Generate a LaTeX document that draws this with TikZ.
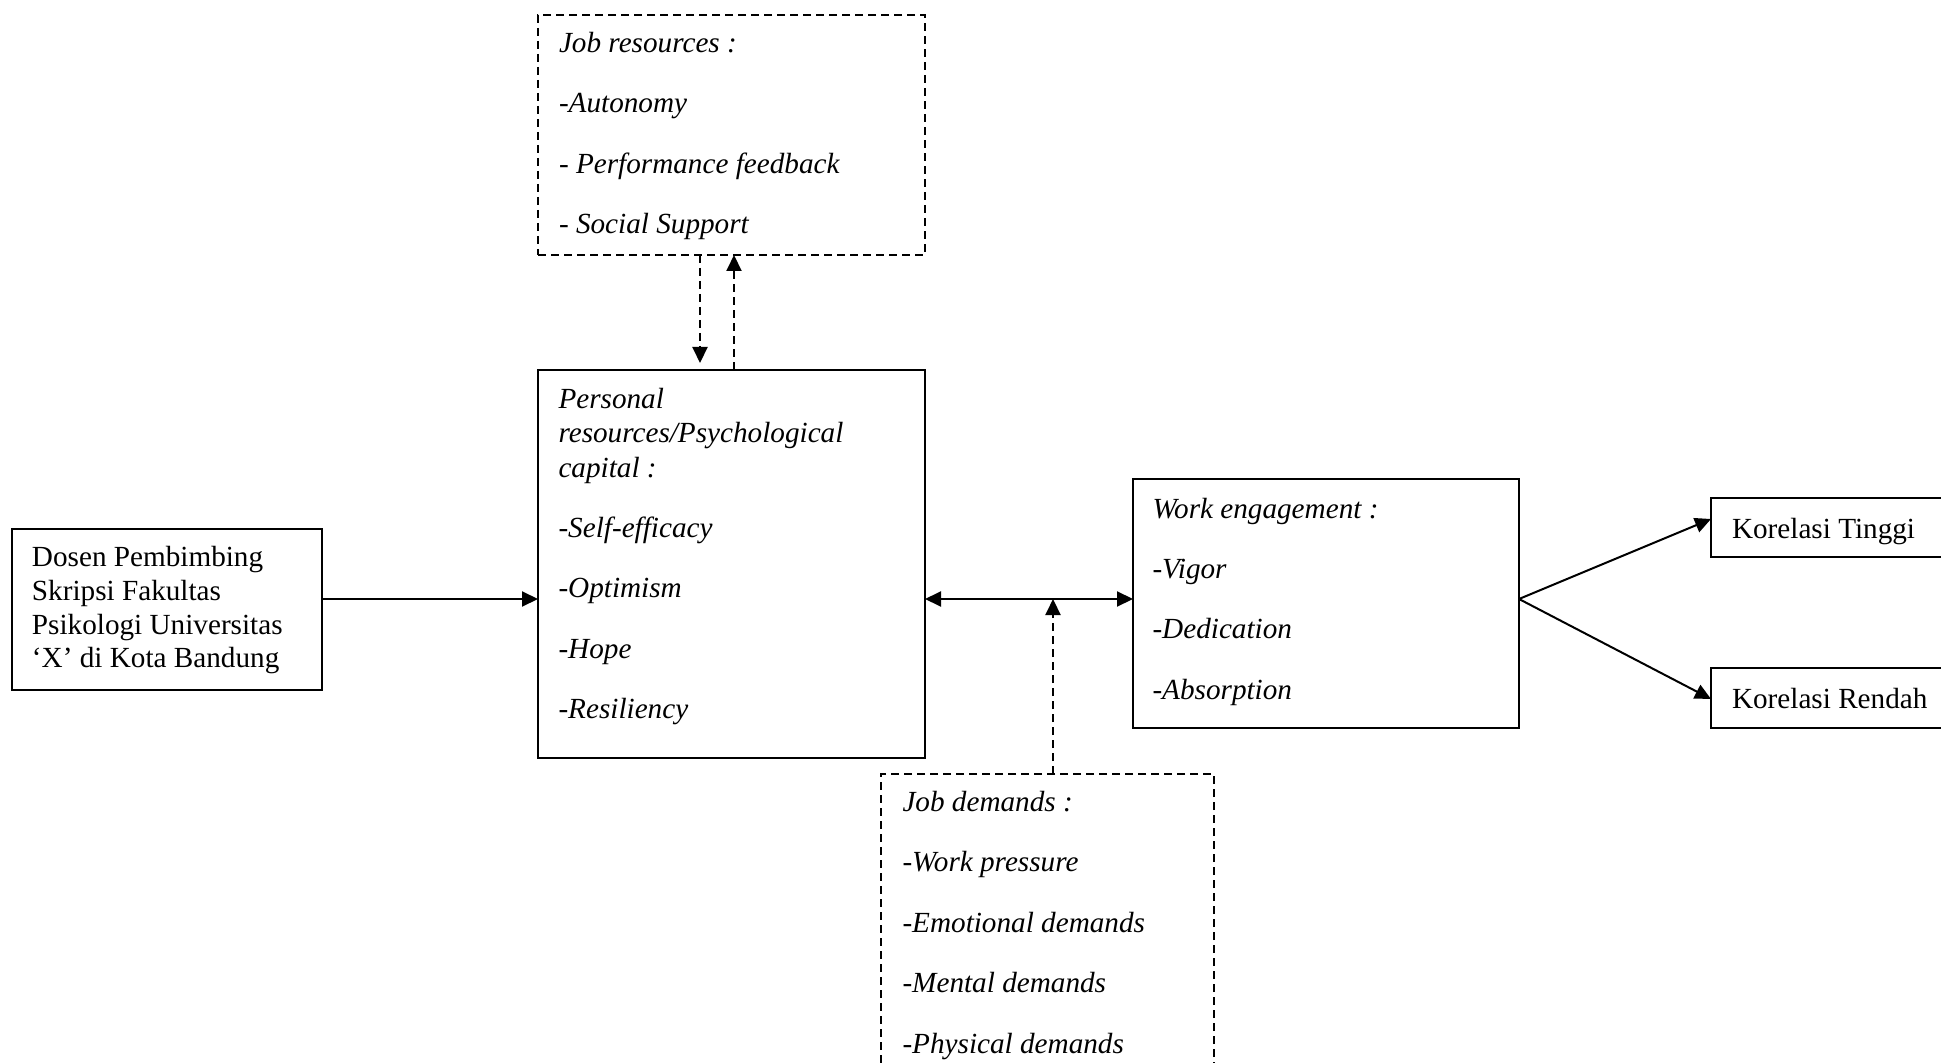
\documentclass[tikz,border=0pt]{standalone}
\usepackage{fontspec}
\setmainfont{Liberation Serif}
\usetikzlibrary{arrows.meta}
\begin{document}
\begin{tikzpicture}[x=0.5pt,y=-0.5pt,
  box/.style={draw, line width=0.9pt, inner sep=0pt, outer sep=0pt, anchor=north west},
  dbox/.style={box, dash pattern=on 4pt off 2.5pt},
  txt/.style={anchor=base west, inner sep=0pt, outer sep=0pt, font=\fontsize{14.6pt}{17pt}\selectfont},
  itxt/.style={txt, font=\fontsize{14.6pt}{17pt}\selectfont\itshape},
  tip/.tip={Triangle[length=8pt,width=7.5pt]},
  arr/.style={line width=1pt, -tip},
  darr/.style={arr, dash pattern=on 4pt off 2.5pt}]
\clip (0,0) rectangle (1941,1063);
\fill[white] (0,0) rectangle (1941,1063);

% boxes
\node[dbox, minimum width=193.5pt, minimum height=120pt] (jr) at (538,15) {};
\node[box, minimum width=193.5pt, minimum height=194pt] (pr) at (538,370) {};
\node[box, minimum width=155pt, minimum height=80.5pt] (ds) at (12,529) {};
\node[box, minimum width=193pt, minimum height=124.5pt] (we) at (1133,479) {};
\node[dbox, minimum width=166.5pt, minimum height=170pt] (jd) at (881,774) {};
\node[box, minimum width=140pt, minimum height=29.5pt] (kt) at (1711,498) {};
\node[box, minimum width=140pt, minimum height=30pt] (kr) at (1711,668) {};

% texts: job resources
\node[itxt] (jr1) at (559,52.5) {Job resources :};
\node[itxt] (jr2) at (559,113) {-Autonomy};
\node[itxt] (jr3) at (559,173.5) {- Performance feedback};
\node[itxt] (jr4) at (559,234) {- Social Support};

% personal resources
\node[itxt] (pr1) at (558.5,409) {Personal};
\node[itxt] (pr2) at (558.5,442.5) {resources/Psychological};
\node[itxt] (pr3) at (558.5,477) {capital :};
\node[itxt] (pr4) at (558.5,537) {-Self-efficacy};
\node[itxt] (pr5) at (558.5,597.5) {-Optimism};
\node[itxt] (pr6) at (558.5,658) {-Hope};
\node[itxt] (pr7) at (558.5,718.5) {-Resiliency};

% dosen
\node[txt] (ds1) at (32,566) {Dosen Pembimbing};
\node[txt] (ds2) at (32,600) {Skripsi Fakultas};
\node[txt] (ds3) at (32,634) {Psikologi Universitas};
\node[txt] (ds4) at (32,667.5) {‘X’ di Kota Bandung};

% work engagement
\node[itxt] (we1) at (1152.5,518) {Work engagement :};
\node[itxt] (we2) at (1152.5,578) {-Vigor};
\node[itxt] (we3) at (1152.5,638.5) {-Dedication};
\node[itxt] (we4) at (1152.5,699) {-Absorption};

% job demands
\node[itxt] (jd1) at (902.5,811.5) {Job demands :};
\node[itxt] (jd2) at (902.5,871.5) {-Work pressure};
\node[itxt] (jd3) at (902.5,932) {-Emotional demands};
\node[itxt] (jd4) at (902.5,992.5) {-Mental demands};
\node[itxt] (jd5) at (902.5,1053) {-Physical demands};

% korelasi
\node[txt] (kt1) at (1732,538.5) {Korelasi Tinggi};
\node[txt] (kr1) at (1732,708.5) {Korelasi Rendah};

% helper coordinates
\coordinate (my) at (0,599);
\coordinate (xdn) at (700,0);
\coordinate (xup) at (734,0);
\coordinate (xjd) at (1053,0);
\coordinate (kty) at (0,519);
\coordinate (kry) at (0,699);

% connectors
\draw[arr] (ds.east |- my) -- (pr.west |- my);
\draw[arr, tip-tip] (pr.east |- my) -- (we.west |- my);
\draw[darr, shorten >=3.5pt] (jr.south -| xdn) -- (pr.north -| xdn);
\draw[darr] (pr.north -| xup) -- (jr.south -| xup);
\draw[darr] (jd.north -| xjd) -- (my -| xjd);
\draw[arr] (we.east |- my) -- (kt.west |- kty);
\draw[arr] (we.east |- my) -- (kr.west |- kry);
\end{tikzpicture}
\end{document}
